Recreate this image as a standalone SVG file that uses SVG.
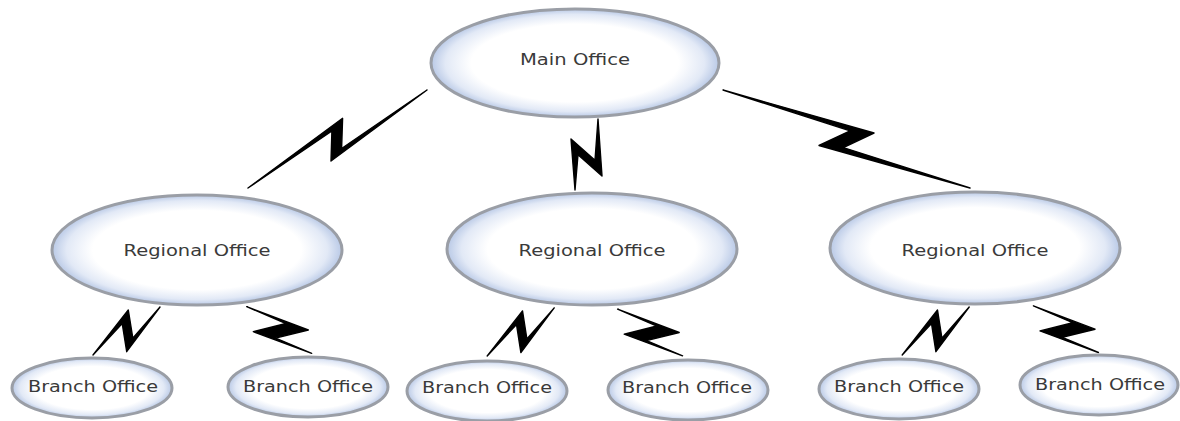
<svg xmlns="http://www.w3.org/2000/svg" width="1180" height="421" viewBox="0 0 1180 421">
<defs>
<radialGradient id="g" cx="0.5" cy="0.5" r="0.5">
<stop offset="0" stop-color="#ffffff"/>
<stop offset="0.72" stop-color="#ffffff"/>
<stop offset="0.9" stop-color="#e2e9f6"/>
<stop offset="1" stop-color="#b9c9e6"/>
</radialGradient>
</defs>
<style>
.n{fill:url(#g);stroke:#9a9ea6;stroke-width:3}
.t{font-family:"DejaVu Sans",Verdana,sans-serif;font-size:15px;fill:#3a3a3a;text-anchor:middle}
.b{fill:#000;stroke:#000;stroke-width:1.4;stroke-linejoin:round}
</style>
<rect width="1180" height="421" fill="#fff"/>
<g id="connectors">
<polygon class="b" points="427,90 331,161 331.9,130.9 248,188 342.6,118.3 341.6,148.5"/>
<polygon class="b" points="598,119 602,176 578,154.7 575,190 571,139 595,160.3"/>
<polygon class="b" points="723,90 874,133 843.3,147.6 970,188 819,145.5 850.1,130.8"/>
<polygon class="b" points="160,307 126.7,351.7 122.2,323.5 93,355 128.3,310 132.8,338.1"/>
<polygon class="b" points="246.7,306.7 308.3,330 275.6,338.1 311.7,353.3 253.3,331.7 286,323.5"/>
<polygon class="b" points="554.2,307.9 520.9,352.6 516.5,324.4 487.2,355.9 522.5,310.9 526.9,339"/>
<polygon class="b" points="617.6,309.2 679.2,332.5 646.5,340.6 682.6,355.8 624.2,334.2 656.9,326"/>
<polygon class="b" points="969.2,307 935.9,351.7 931.5,323.5 902.2,355 937.5,310 941.9,338.1"/>
<polygon class="b" points="1033.4,305.9 1095,329.2 1062.3,337.3 1098.4,352.5 1040,330.9 1072.7,322.7"/>
</g>
<g id="main">
<ellipse class="n" cx="575" cy="63" rx="144" ry="54"/>
<text class="t" x="575" y="65" textLength="110" lengthAdjust="spacingAndGlyphs">Main Office</text>
</g>
<g id="regional1">
<ellipse class="n" cx="197" cy="250" rx="145" ry="55"/>
<text class="t" x="197" y="256" textLength="147" lengthAdjust="spacingAndGlyphs">Regional Office</text>
</g>
<g id="regional2">
<ellipse class="n" cx="592" cy="249" rx="145" ry="56"/>
<text class="t" x="592" y="256" textLength="147" lengthAdjust="spacingAndGlyphs">Regional Office</text>
</g>
<g id="regional3">
<ellipse class="n" cx="975" cy="248" rx="145" ry="56"/>
<text class="t" x="975" y="256" textLength="147" lengthAdjust="spacingAndGlyphs">Regional Office</text>
</g>
<g id="branch1">
<ellipse class="n" cx="92" cy="388" rx="80" ry="30"/>
<text class="t" x="93" y="392" textLength="130" lengthAdjust="spacingAndGlyphs">Branch Office</text>
</g>
<g id="branch2">
<ellipse class="n" cx="308" cy="387" rx="80" ry="30"/>
<text class="t" x="308" y="392" textLength="130" lengthAdjust="spacingAndGlyphs">Branch Office</text>
</g>
<g id="branch3">
<ellipse class="n" cx="487" cy="391" rx="80" ry="30"/>
<text class="t" x="487" y="393" textLength="130" lengthAdjust="spacingAndGlyphs">Branch Office</text>
</g>
<g id="branch4">
<ellipse class="n" cx="688" cy="390" rx="80" ry="30"/>
<text class="t" x="687" y="393" textLength="130" lengthAdjust="spacingAndGlyphs">Branch Office</text>
</g>
<g id="branch5">
<ellipse class="n" cx="899" cy="389" rx="80" ry="30"/>
<text class="t" x="899" y="392" textLength="130" lengthAdjust="spacingAndGlyphs">Branch Office</text>
</g>
<g id="branch6">
<ellipse class="n" cx="1099" cy="385" rx="79" ry="30"/>
<text class="t" x="1100" y="390" textLength="130" lengthAdjust="spacingAndGlyphs">Branch Office</text>
</g>
</svg>
